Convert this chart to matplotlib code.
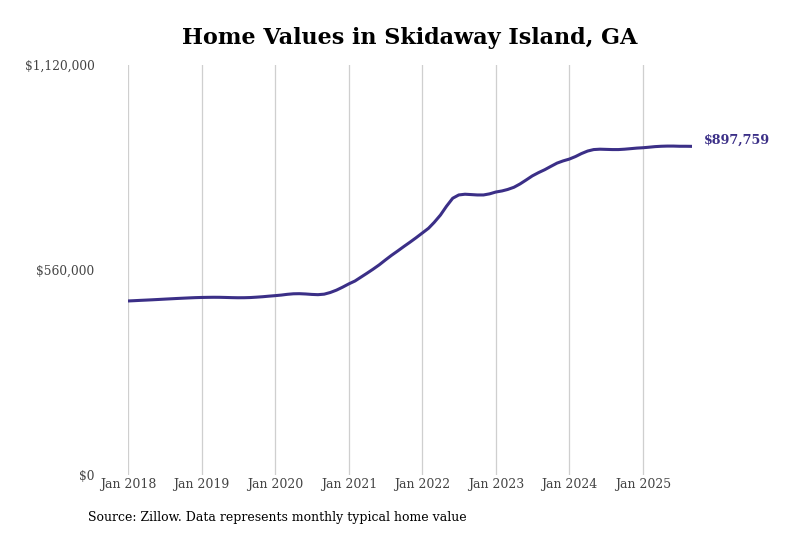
import matplotlib
matplotlib.use("Agg")
import matplotlib.pyplot as plt
import matplotlib.dates as mdates
import pandas as pd

dates = pd.date_range("2018-01-01", "2025-09-01", freq="MS")
values_2018 = [475400, 476200, 477000, 477800, 478600, 479500, 480400, 481300, 482200, 483000, 483800, 484500]
values_2019 = [485000, 485300, 485500, 485400, 485000, 484500, 484200, 484300, 484800, 485800, 487000, 488500]
values_2020 = [489900, 491500, 493500, 495000, 495300, 494500, 493300, 492600, 494000, 498500, 505000, 513000]
values_2021 = [522000, 530000, 540000, 551000, 562000, 574000, 587000, 600000, 612000, 624000, 636000, 648000]
values_2022 = [661000, 674000, 690000, 710000, 734000, 756000, 765000, 767000, 766000, 765000, 765000, 768000]
values_2023 = [773000, 776000, 780000, 786000, 795000, 806000, 817000, 826000, 834000, 843000, 852000, 858000]
values_2024 = [863000, 870000, 878000, 885000, 889000, 890000, 889500, 889000, 889000, 890000, 891500, 893000]
values_2025 = [894000, 895500, 897000, 898000, 898500, 898500, 898000, 898000, 897759]
values = (values_2018 + values_2019 + values_2020 + values_2021 + values_2022
          + values_2023 + values_2024 + values_2025)

title = "Home Values in Skidaway Island, GA"
source = "Source: Zillow. Data represents monthly typical home value"
y_ticks = [0, 560000, 1120000]
y_tick_labels = ["$0", "$560,000", "$1,120,000"]
x_tick_years = list(range(2018, 2026))
end_label = "$897,759"

line_color = "#3b2f87"
plt.rcParams["font.family"] = ["DejaVu Serif"]

fig = plt.figure(figsize=(8, 5.33), dpi=100)
ax = fig.add_axes([0.16, 1 - 475 / 533, (692 - 128) / 800, (475 - 65) / 533])

ax.plot(dates, values, color=line_color, lw=2.2, solid_capstyle="round", zorder=3)

ax.set_xlim(dates[0], dates[-1])
ax.set_ylim(0, 1120000)

xt = [pd.Timestamp(f"{y}-01-01") for y in x_tick_years]
ax.set_xticks(xt)
ax.set_xticklabels([f"Jan {y}" for y in x_tick_years], fontsize=9, color="#444444")
ax.set_yticks(y_ticks)
ax.set_yticklabels(y_tick_labels, fontsize=8.8, color="#444444")
ax.tick_params(axis="both", length=0)
ax.tick_params(axis="x", pad=2)
ax.tick_params(axis="y", pad=24)
ax.grid(axis="x", color="#cfcfcf", lw=0.9)
ax.grid(axis="y", visible=False)
for s in ax.spines.values():
    s.set_visible(False)

ax.text(dates[-1] + pd.Timedelta(days=60), values[-1], end_label, color=line_color,
        fontsize=9.2, fontweight="bold", va="bottom", ha="left", clip_on=False)

fig.text(0.5 + 10 / 800, 1 - 38 / 533, title, ha="center", va="center", fontsize=16, fontweight="bold")
fig.text(88 / 800, 1 - 517 / 533, source, ha="left", va="center", fontsize=9)

fig.savefig("out.png", dpi=100)
